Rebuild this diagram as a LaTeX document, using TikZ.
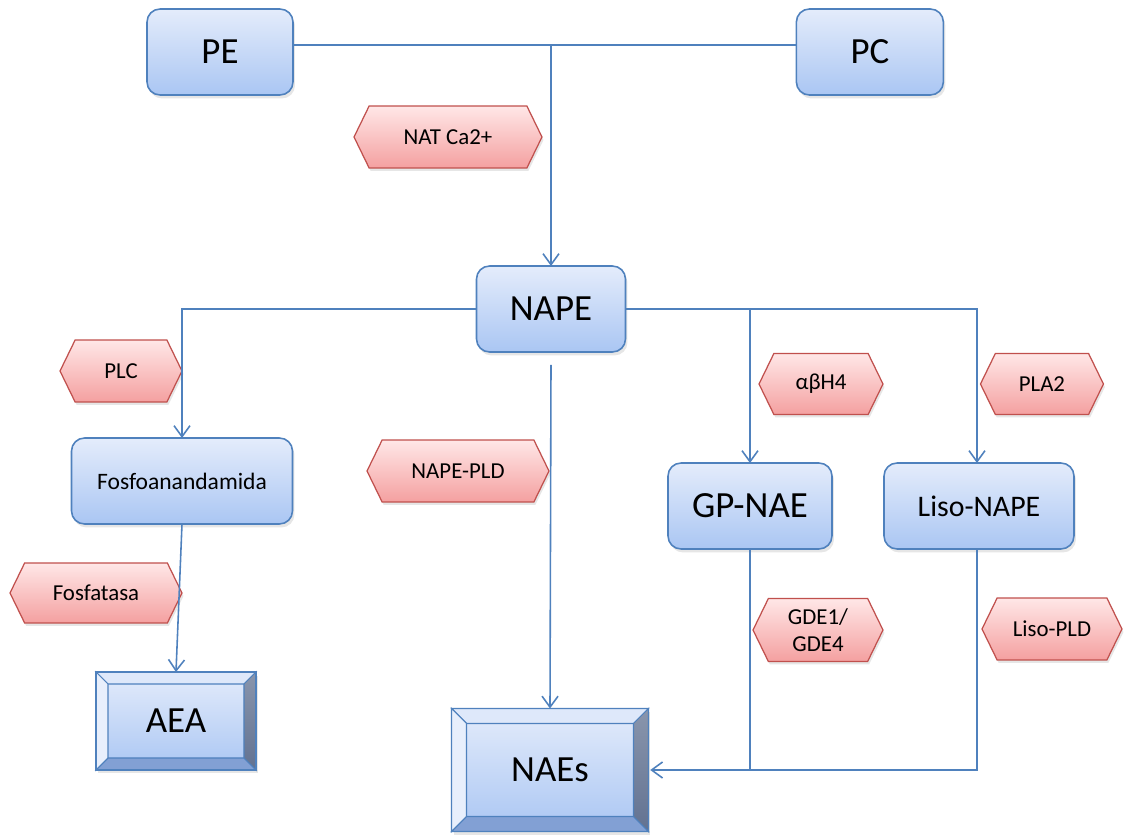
\documentclass[tikz,border=0pt]{standalone}
\usepackage{fontspec}
\setmainfont{Carlito}
\usetikzlibrary{shapes,arrows.meta,positioning,shadows}

\definecolor{linecol}{RGB}{79,129,189}
\definecolor{boxtop}{RGB}{228,236,251}
\definecolor{boxbot}{RGB}{170,198,243}
\definecolor{hexline}{RGB}{192,80,77}
\definecolor{hextop}{RGB}{255,231,231}
\definecolor{hexbot}{RGB}{244,160,160}
\definecolor{bevlight}{RGB}{232,239,252}
\definecolor{bevtop}{RGB}{222,232,250}
\definecolor{bevdark}{RGB}{98,114,145}
\definecolor{bevbot}{RGB}{130,160,212}

\begin{document}
\begin{tikzpicture}[x=0.02cm, y=-0.02cm, >={Straight Barb[length=0.22cm,width=0.32cm]},
    box/.style={rectangle, rounded corners=0.26cm, draw=linecol, line width=0.9pt, top color=boxtop, bottom color=boxbot, minimum height=1.72cm, outer sep=0pt, drop shadow={shadow xshift=0.04cm, shadow yshift=-0.07cm, opacity=0.2}},
    bevelbox/.style={rectangle, draw=linecol, line width=0.9pt, top color=boxtop, bottom color=boxbot, outer sep=0pt, font=\fontsize{21}{25}\selectfont, drop shadow={shadow xshift=0.04cm, shadow yshift=-0.07cm, opacity=0.2}},
    enzyme/.style={signal, signal to=west and east, signal pointer angle=128, draw=hexline, line width=0.7pt, top color=hextop, bottom color=hexbot, minimum height=1.24cm, inner sep=2pt, align=center, font=\fontsize{13}{15}\selectfont, drop shadow={shadow xshift=0.03cm, shadow yshift=-0.06cm, opacity=0.2}},
    big/.style={font=\fontsize{21}{25}\selectfont},
    link/.style={draw=linecol, line width=0.9pt}]
    \useasboundingbox (0,0) rectangle (1127,835);

    % Lipids
    \node[box, big, minimum width=2.92cm] (pe) at (220,52) {PE};
    \node[box, big, minimum width=2.94cm, right of=pe, node distance=13cm] (pc) {PC};
    \node[box, big, minimum width=2.98cm] (nape) at (551,309) {NAPE};

    % Intermediates
    \node[box, minimum width=4.42cm, font=\fontsize{13.4}{16}\selectfont] (fosfoan) at (182,481) {Fosfoanandamida};
    \node[box, big, minimum width=3.28cm] (gpnae) at (750,506) {GP-NAE};
    \node[box, minimum width=3.8cm, font=\fontsize{17}{20}\selectfont] (lisonape) at (979,506) {Liso-NAPE};

    % Products
    \node[bevelbox, minimum width=3.2cm, minimum height=1.96cm] (aea) at (176,721) {AEA};
    \node[bevelbox, minimum width=3.94cm, minimum height=2.46cm] (naes) at (550,770) {NAEs};

    % Enzymes
    \node[enzyme, minimum width=3.76cm] (nat) at (448,137) {NAT Ca2+};
    \node[enzyme, minimum width=2.44cm] (plc) at (121,371) {PLC};
    \node[enzyme, minimum width=3.64cm] (napepld) at (458,471) {NAPE-PLD};
    \node[enzyme, minimum width=2.48cm, minimum height=1.22cm] (abh) at (821,384) {αβH4};
    \node[enzyme, minimum width=2.46cm, minimum height=1.22cm, right of=abh, node distance=4.42cm] (pla) {PLA2};
    \node[enzyme, minimum width=3.44cm, minimum height=1.2cm] (fosfatasa) at (96,593) {Fosfatasa};
    \node[enzyme, minimum width=2.6cm, minimum height=1.26cm] (gde) at (818,630) {GDE1/\\GDE4};
    \node[enzyme, minimum width=2.8cm] (lisopld) at (1052,629) {Liso-PLD};

    % Bevel faces
    \foreach \b/\d in {aea/0.24cm, naes/0.3cm}{
        \path[fill=bevtop, draw=linecol, line width=0.6pt] (\b.north west) -- (\b.north east) -- ([shift={(-\d,-\d)}]\b.north east) -- ([shift={(\d,-\d)}]\b.north west) -- cycle;
        \path[fill=bevlight, draw=linecol, line width=0.6pt] (\b.north west) -- ([shift={(\d,-\d)}]\b.north west) -- ([shift={(\d,\d)}]\b.south west) -- (\b.south west) -- cycle;
        \path[top color=bevdark!75, bottom color=bevdark, draw=linecol, line width=0.6pt] (\b.north east) -- (\b.south east) -- ([shift={(-\d,\d)}]\b.south east) -- ([shift={(-\d,-\d)}]\b.north east) -- cycle;
        \path[fill=bevbot, draw=linecol, line width=0.6pt] (\b.south west) -- (\b.south east) -- ([shift={(-\d,\d)}]\b.south east) -- ([shift={(\d,\d)}]\b.south west) -- cycle;
        \draw[linecol, line width=0.9pt] (\b.north west) rectangle (\b.south east);
    }

    % Arrows
    \coordinate (join) at ([yshift=0.14cm]pe.east);
    \draw[link] (join) -- (join -| pc.west);
    \draw[link, ->] (join -| nape.north) -- (nape.north);
    \draw[link, ->] (nape.west) -| (fosfoan.north);
    \draw[link, ->] (nape.east) -| ([xshift=-0.04cm]lisonape.north);
    \draw[link, ->] (nape.east -| gpnae.north) -- (gpnae.north);
    \draw[link, ->] (fosfoan.south) -- (aea.north);
    \draw[link, ->] ([yshift=-0.26cm]nape.south) -- (naes.north);
    \draw[link, ->, shorten >=1pt] (gpnae.south) |- (naes.east);
    \draw[link] ([xshift=-0.04cm]lisonape.south) |- (gpnae.south |- naes.east);
\end{tikzpicture}
\end{document}
